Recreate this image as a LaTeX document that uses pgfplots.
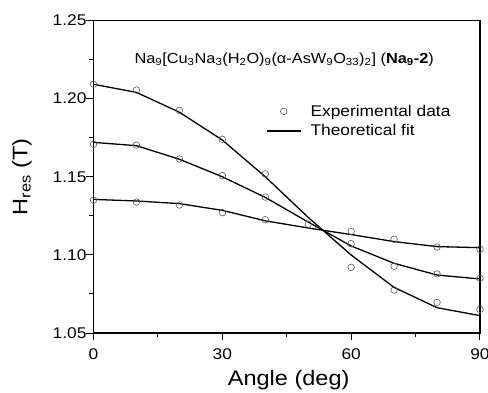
\documentclass[border=0pt]{standalone}
\usepackage{fontspec}
\setmainfont{Liberation Sans}[FakeStretch=1.12]
\usepackage{pgfplots}
\pgfplotsset{compat=1.18}
\pgfplotsset{
  expmark/.style={only marks, mark=o, mark size=3.3pt, mark options={line width=0.6pt, gray!70!black},
    legend image code/.code={\draw[##1] plot coordinates {(0.6cm,0cm)}; \path (0cm,0cm) (1.45cm,0cm);}},
  fitline/.style={black, line width=1.3pt,
    legend image code/.code={\draw[##1] (0cm,0cm) -- (1.2cm,0cm); \path (1.45cm,0cm);}},
}
\begin{document}
\begin{tikzpicture}
\begin{axis}[
  at={(0,0)}, anchor=south west,
  scale only axis,
  width=386.5pt, height=312.5pt,
  xmin=0, xmax=90, ymin=1.05, ymax=1.25,
  axis line style={line width=1.2pt},
  xtick={0,30,60,90}, minor xtick={15,45,75},
  ytick={1.05,1.10,1.15,1.20,1.25}, minor ytick={1.075,1.125,1.175,1.225},
  xtick pos=bottom, ytick pos=left,
  tick align=outside,
  major tick length=7pt, minor tick length=4pt,
  every tick/.style={line width=1pt, black},
  /pgf/number format/assume math mode=true,
  yticklabel style={/pgf/number format/fixed, /pgf/number format/fixed zerofill, /pgf/number format/precision=2, xshift=3.5pt},
  xticklabel style={yshift=-5pt},
  ticklabel style={font=\fontsize{15.5}{18}\selectfont},
  xlabel={Angle (deg)},
  ylabel={H\textsubscript{res} (T)},
  label style={font=\fontsize{21}{25}\selectfont},
  xlabel style={at={(axis description cs:0.505,-0.15)}, anchor=center},
  ylabel style={at={(axis description cs:-0.185,0.5)}, anchor=center},
  legend style={draw=none, fill=none, font=\fontsize{15.5}{18}\selectfont,
    at={(axis description cs:0.438,0.743)}, anchor=north west, row sep=3pt},
  legend cell align=left,
]
% Experimental data (top, middle, bottom)
\addplot[expmark]
  coordinates {(0,1.2092) (10,1.2055) (20,1.1925) (30,1.1740) (40,1.1518) (60,1.0920) (70,1.0775) (80,1.0696) (90,1.0652)};
\addlegendentry{Experimental data}
\addplot[fitline]
  coordinates {(0,1.2092) (10,1.2040) (20,1.1913) (30,1.1735) (40,1.1500) (50,1.1240) (60,1.0999) (70,1.0792) (80,1.0662) (90,1.0611)};
\addlegendentry{Theoretical fit}
\addplot[expmark, forget plot]
  coordinates {(0,1.1708) (10,1.1703) (20,1.1614) (30,1.1507) (40,1.1370) (60,1.1072) (70,1.0927) (80,1.0878) (90,1.0850)};
\addplot[expmark, forget plot]
  coordinates {(0,1.1350) (10,1.1338) (20,1.1319) (30,1.1270) (40,1.1225) (50,1.1196) (60,1.1150) (70,1.1100) (80,1.1050) (90,1.1036)};
\addplot[fitline, forget plot]
  coordinates {(0,1.1720) (10,1.1699) (20,1.1612) (30,1.1500) (40,1.1368) (50,1.1210) (60,1.1057) (70,1.0946) (80,1.0871) (90,1.0846)};
\addplot[fitline, forget plot]
  coordinates {(0,1.1355) (10,1.1345) (20,1.1328) (30,1.1285) (40,1.1218) (50,1.1172) (60,1.1130) (70,1.1085) (80,1.1053) (90,1.1046)};
\node[font=\fontsize{14.6}{17}\selectfont, anchor=center] at (axis cs:44.4,1.2247)
  {Na\textsubscript{9}[Cu\textsubscript{3}Na\textsubscript{3}(H\textsubscript{2}O)\textsubscript{9}(α-AsW\textsubscript{9}O\textsubscript{33})\textsubscript{2}] (\textbf{Na\textsubscript{9}-2})};
\end{axis}
\pgfresetboundingbox
\useasboundingbox (-93.5pt,-59pt) rectangle (394.5pt,333pt);
\end{tikzpicture}
\end{document}
